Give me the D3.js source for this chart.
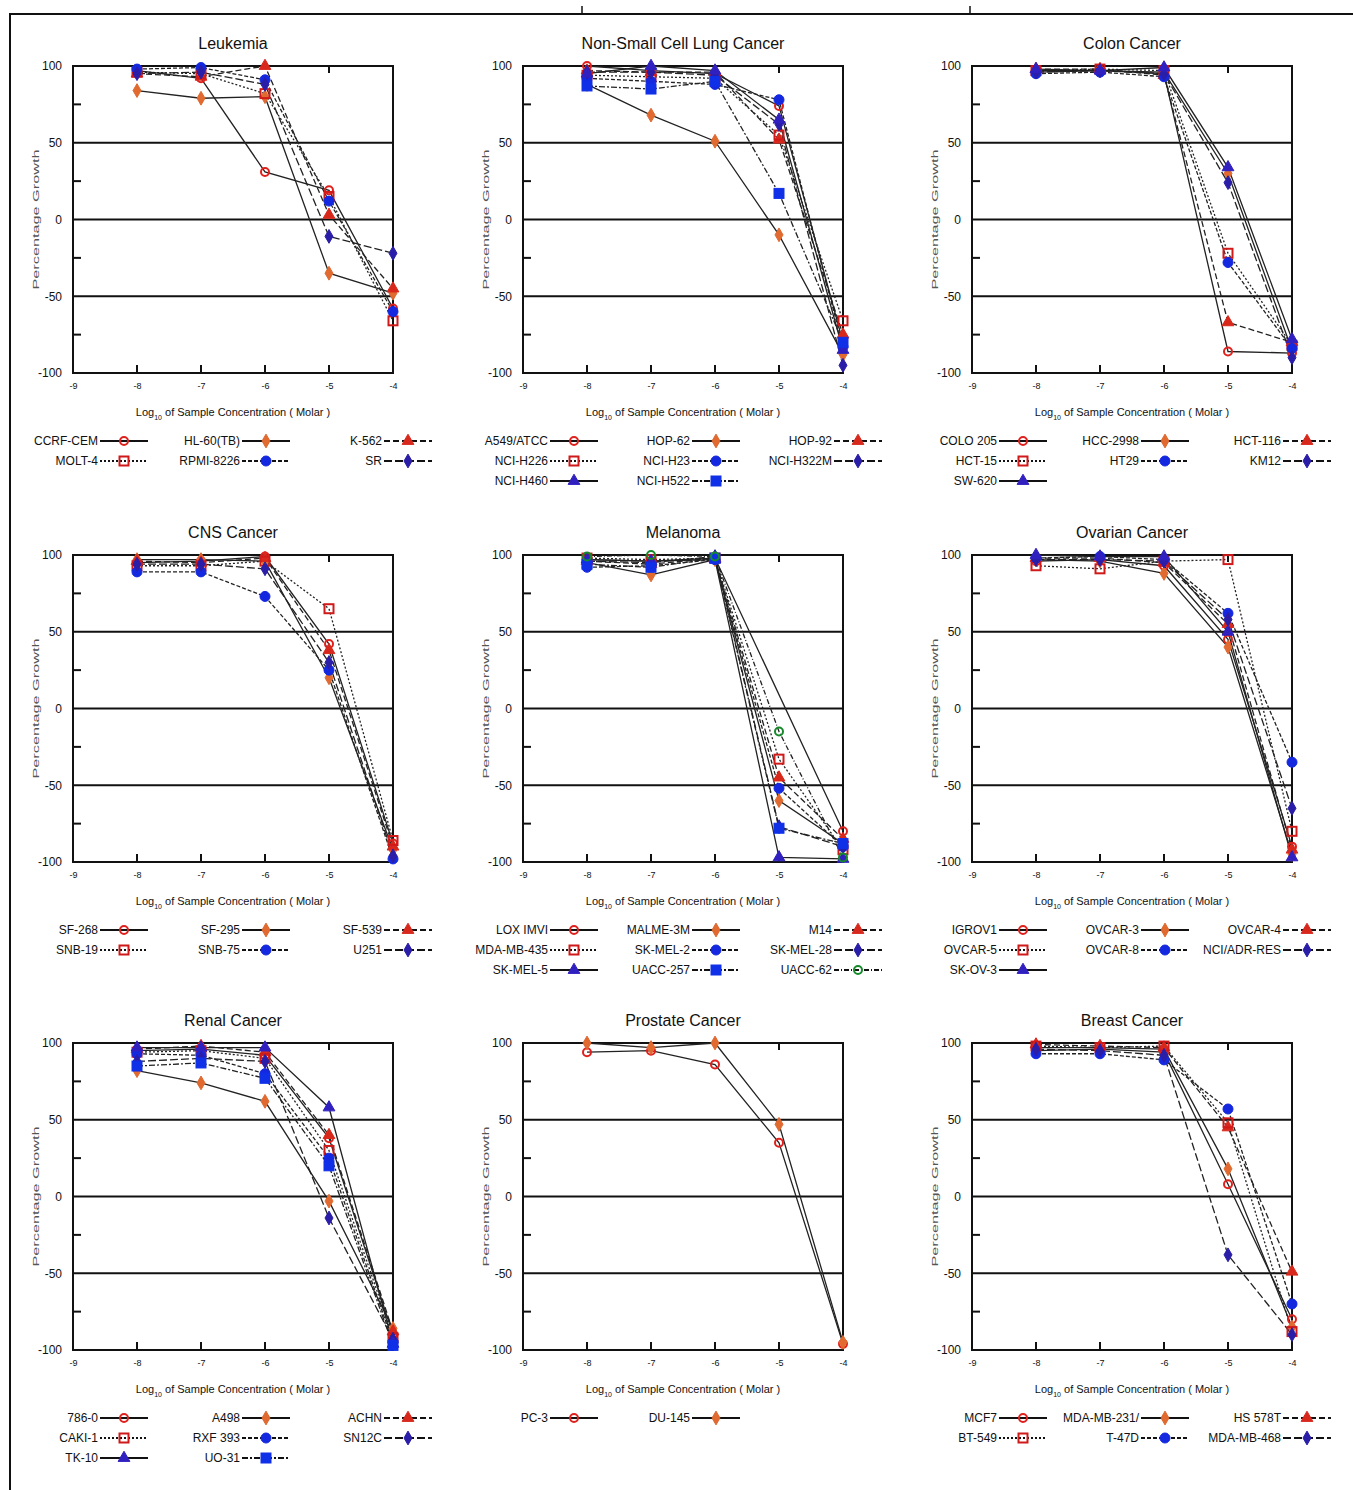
<!DOCTYPE html>
<html>
<head>
<meta charset="utf-8">
<script src="https://cdn.jsdelivr.net/npm/d3@7"></script>
<style>
  body { margin: 0; background: #fff; }
  text { font-family: "Liberation Sans", Arial, sans-serif; fill: #111; }
</style>
</head>
<body>
<div id="chart-area"></div>
<script>
// log10 concentrations tested
var concentrations = [-8, -7, -6, -5, -4];
var xTicks = [-9, -8, -7, -6, -5, -4];
var yTicks = [-100, -50, 0, 50, 100];
var yMinor = [-75, -25, 25, 75];

var panelTitles = ["Leukemia", "Non-Small Cell Lung Cancer", "Colon Cancer",
  "CNS Cancer", "Melanoma", "Ovarian Cancer",
  "Renal Cancer", "Prostate Cancer", "Breast Cancer"];

// cell lines, in legend order (null = no point at that dose)
var leukemiaLines = ["CCRF-CEM", "HL-60(TB)", "K-562", "MOLT-4", "RPMI-8226", "SR"];
var leukemiaValues = [
  [97, 92, 31, 19, -58],
  [84, 79, 80, -35, -48],
  [95, 93, 100, 3, -45],
  [96, 95, 82, 15, -66],
  [98, 99, 91, 12, -60],
  [95, 96, 88, -11, -22]];

var lungLines = ["A549/ATCC", "HOP-62", "HOP-92", "NCI-H226", "NCI-H23", "NCI-H322M", "NCI-H460", "NCI-H522"];
var lungValues = [
  [100, 97, 95, 74, -80],
  [88, 68, 51, -10, -88],
  [97, 96, 96, 52, -75],
  [94, 93, 92, 55, -66],
  [92, 90, 88, 78, -83],
  [96, 96, 94, 62, -95],
  [95, 100, 97, 65, -85],
  [87, 85, 90, 17, -80]];

var colonLines = ["COLO 205", "HCC-2998", "HCT-116", "HCT-15", "HT29", "KM12", "SW-620"];
var colonValues = [
  [97, 97, 95, -86, -87],
  [96, 97, 96, 30, -85],
  [98, 98, 94, -67, -80],
  [97, 98, 97, -22, -82],
  [95, 96, 93, -28, -84],
  [96, 97, 95, 24, -90],
  [98, 97, 99, 34, -78]];

var cnsLines = ["SF-268", "SF-295", "SF-539", "SNB-19", "SNB-75", "U251"];
var cnsValues = [
  [95, 96, 99, 42, -88],
  [97, 97, 96, 20, -92],
  [96, 95, 98, 38, -90],
  [93, 93, 96, 65, -86],
  [89, 89, 73, 25, -98],
  [94, 94, 91, 30, -96]];

var melanomaLines = ["LOX IMVI", "MALME-3M", "M14", "MDA-MB-435", "SK-MEL-2", "SK-MEL-28", "SK-MEL-5", "UACC-257", "UACC-62"];
var melanomaValues = [
  [97, 96, 98, null, -80],
  [95, 87, 97, -60, -88],
  [96, 94, 98, -45, -85],
  [98, 97, 98, -33, -92],
  [92, 93, 97, -52, -90],
  [96, 95, 99, -77, -90],
  [97, 96, 97, -97, -98],
  [94, 92, 98, -78, -88],
  [99, 100, 99, -15, -97]];

var ovarianLines = ["IGROV1", "OVCAR-3", "OVCAR-4", "OVCAR-5", "OVCAR-8", "NCI/ADR-RES", "SK-OV-3"];
var ovarianValues = [
  [96, 97, 93, 45, -90],
  [97, 96, 88, 40, -95],
  [98, 98, 95, 55, -92],
  [93, 91, 96, 97, -80],
  [98, 99, 97, 62, -35],
  [97, 97, 96, 58, -65],
  [100, 99, 99, 50, -97]];

var renalLines = ["786-0", "A498", "ACHN", "CAKI-1", "RXF 393", "SN12C", "TK-10", "UO-31"];
var renalValues = [
  [95, 96, 92, 38, -90],
  [82, 74, 62, -3, -86],
  [96, 98, 94, 40, -88],
  [94, 95, 90, 30, -92],
  [93, 92, 80, 25, -95],
  [88, 90, 88, -14, -93],
  [97, 97, 97, 58, -96],
  [85, 87, 77, 20, -97]];

var prostateLines = ["PC-3", "DU-145"];
var prostateValues = [
  [94, 95, 86, 35, -96],
  [100, 97, 100, 47, -95]];

var breastLines = ["MCF7", "MDA-MB-231/", "HS 578T", "BT-549", "T-47D", "MDA-MB-468"];
var breastValues = [
  [95, 96, 94, 8, -80],
  [97, 97, 96, 18, -85],
  [99, 98, 97, 45, -49],
  [98, 97, 98, 48, -88],
  [93, 93, 89, 57, -70],
  [96, 95, 92, -38, -90]];

var panelLines = [leukemiaLines, lungLines, colonLines, cnsLines, melanomaLines, ovarianLines, renalLines, prostateLines, breastLines];
var panelValues = [leukemiaValues, lungValues, colonValues, cnsValues, melanomaValues, ovarianValues, renalValues, prostateValues, breastValues];

// line type by legend slot (gnuplot-ish)
var lineTypes = [
  {marker: "circle", color: "#e0201c", fill: "none", dash: null},
  {marker: "diamond", color: "#e06a30", fill: "#e06a30", dash: null},
  {marker: "triangle", color: "#d8281c", fill: "#d8281c", dash: "6,3"},
  {marker: "square", color: "#d01a1a", fill: "none", dash: "2,2"},
  {marker: "circle", color: "#1428e0", fill: "#1428e0", dash: "4,2"},
  {marker: "diamond", color: "#2a1ea8", fill: "#2a1ea8", dash: "8,3"},
  {marker: "triangle", color: "#3020c0", fill: "#3020c0", dash: null},
  {marker: "square", color: "#1030e8", fill: "#1030e8", dash: "6,2,2,2"},
  {marker: "circle", color: "#168a2a", fill: "none", dash: "5,2,1,2"}];

var W = 1353, H = 1490;
var colX = [73, 523, 972], rowY = [66, 555, 1043];
var pw = 320, ph = 307;

var svg = d3.select("#chart-area").append("svg")
  .attr("width", W).attr("height", H);

// page frame
svg.append("line").attr("x1", 10).attr("x2", W).attr("y1", 14).attr("y2", 14)
  .attr("stroke", "#111").attr("stroke-width", 2);
svg.append("line").attr("x1", 10).attr("x2", 10).attr("y1", 13).attr("y2", H)
  .attr("stroke", "#111").attr("stroke-width", 2);
[582, 970].forEach(function(x) {
  svg.append("line").attr("x1", x).attr("x2", x).attr("y1", 6).attr("y2", 14)
    .attr("stroke", "#111").attr("stroke-width", 1.5);
});

function drawMarker(g, type, cx, cy) {
  var m;
  if (type.marker == "circle") {
    m = g.append("circle").attr("cx", cx).attr("cy", cy).attr("r", type.fill == "none" ? 4 : 5);
  } else if (type.marker == "square") {
    var s = type.fill == "none" ? 9 : 10;
    m = g.append("rect").attr("x", cx - s / 2).attr("y", cy - s / 2).attr("width", s).attr("height", s);
  } else {
    var sym = type.marker == "diamond" ? d3.symbolDiamond : d3.symbolTriangle;
    var size = type.marker == "diamond" ? 55 : 60;
    m = g.append("path").attr("d", d3.symbol().type(sym).size(size)())
      .attr("transform", "translate(" + cx + "," + cy + ")");
  }
  m.attr("fill", type.fill).attr("stroke", type.color)
    .attr("stroke-width", type.fill == "none" ? 2 : 1);
}

panelTitles.forEach(function(title, p) {
  var left = colX[p % 3], top = rowY[Math.floor(p / 3)];
  var g = svg.append("g").attr("transform", "translate(" + left + "," + top + ")");

  var x = d3.scaleLinear().domain([-9, -4]).range([0, pw]);
  var y = d3.scaleLinear().domain([-100, 100]).range([ph, 0]);

  g.append("text").attr("x", pw / 2).attr("y", -17).attr("text-anchor", "middle")
    .attr("font-size", "16px").text(title);

  // tick labels via axes
  var yAxis = g.append("g").call(d3.axisLeft(y).tickValues(yTicks).tickSize(0).tickPadding(11)
    .tickFormat(function(d) { return String(d); }));
  yAxis.select(".domain").remove();
  yAxis.selectAll("text").attr("font-size", "12px").attr("font-family", "Liberation Sans, Arial");
  var xAxis = g.append("g").attr("transform", "translate(0," + ph + ")")
    .call(d3.axisBottom(x).tickValues(xTicks).tickSize(0).tickPadding(10)
      .tickFormat(function(d) { return String(d); }));
  xAxis.select(".domain").remove();
  xAxis.selectAll("text").attr("font-size", "9px").attr("font-family", "Liberation Sans, Arial");

  // inner tick marks
  yMinor.forEach(function(v) {
    g.append("line").attr("x1", 0).attr("x2", 8).attr("y1", y(v)).attr("y2", y(v))
      .attr("stroke", "#111").attr("stroke-width", 2);
  });
  [-8, -7, -6, -5].forEach(function(v) {
    g.append("line").attr("x1", x(v)).attr("x2", x(v)).attr("y1", ph).attr("y2", ph - 8)
      .attr("stroke", "#111").attr("stroke-width", 2);
  });
  g.append("line").attr("x1", x(-5)).attr("x2", x(-5)).attr("y1", 0).attr("y2", 7)
    .attr("stroke", "#111").attr("stroke-width", 2);

  // reference lines
  [50, 0, -50].forEach(function(v) {
    g.append("line").attr("x1", 0).attr("x2", pw).attr("y1", y(v)).attr("y2", y(v))
      .attr("stroke", "#111").attr("stroke-width", 2);
  });
  g.append("rect").attr("width", pw).attr("height", ph)
    .attr("fill", "none").attr("stroke", "#111").attr("stroke-width", 2);

  // axis titles
  var xl = g.append("text").attr("x", pw / 2).attr("y", ph + 43).attr("text-anchor", "middle")
    .attr("font-size", "11px");
  xl.append("tspan").text("Log");
  xl.append("tspan").attr("font-size", "7px").attr("dy", 4).text("10");
  xl.append("tspan").attr("dy", -4).text(" of Sample Concentration ( Molar )");

  g.append("text").attr("transform", "translate(-34," + (ph / 2) + ") rotate(-90)")
    .attr("text-anchor", "middle").attr("font-size", "9px").style("fill", "#555")
    .attr("textLength", 140).attr("lengthAdjust", "spacingAndGlyphs")
    .text("Percentage Growth");

  // curves (skip missing doses, join the rest)
  var names = panelLines[p], vals = panelValues[p];
  var line = d3.line().x(function(d) { return x(d[0]); }).y(function(d) { return y(d[1]); });
  vals.forEach(function(v, i) {
    var pts = v.map(function(d, j) { return [concentrations[j], d]; })
      .filter(function(d) { return d[1] != null; });
    g.append("path").datum(pts).attr("d", line).attr("fill", "none")
      .attr("stroke", "#222").attr("stroke-width", 1.3)
      .attr("stroke-dasharray", lineTypes[i].dash);
  });
  vals.forEach(function(v, i) {
    v.forEach(function(d, j) {
      if (d != null) drawMarker(g, lineTypes[i], x(concentrations[j]), y(d));
    });
  });

  // legend
  var lg = g.append("g").attr("transform", "translate(0," + (ph + 68) + ")");
  names.forEach(function(name, i) {
    var c = i % 3, r = Math.floor(i / 3), t = lineTypes[i];
    var tx = [25, 167, 309][c], ly = r * 20;
    lg.append("text").attr("x", tx).attr("y", ly).attr("dy", "0.35em")
      .attr("text-anchor", "end").attr("font-size", "12px").text(name);
    lg.append("line").attr("x1", tx + 2).attr("x2", tx + 50).attr("y1", ly).attr("y2", ly)
      .attr("stroke", "#111").attr("stroke-width", 2).attr("stroke-dasharray", t.dash);
    drawMarker(lg, t, tx + 26, ly);
  });
});
</script>
</body>
</html>
